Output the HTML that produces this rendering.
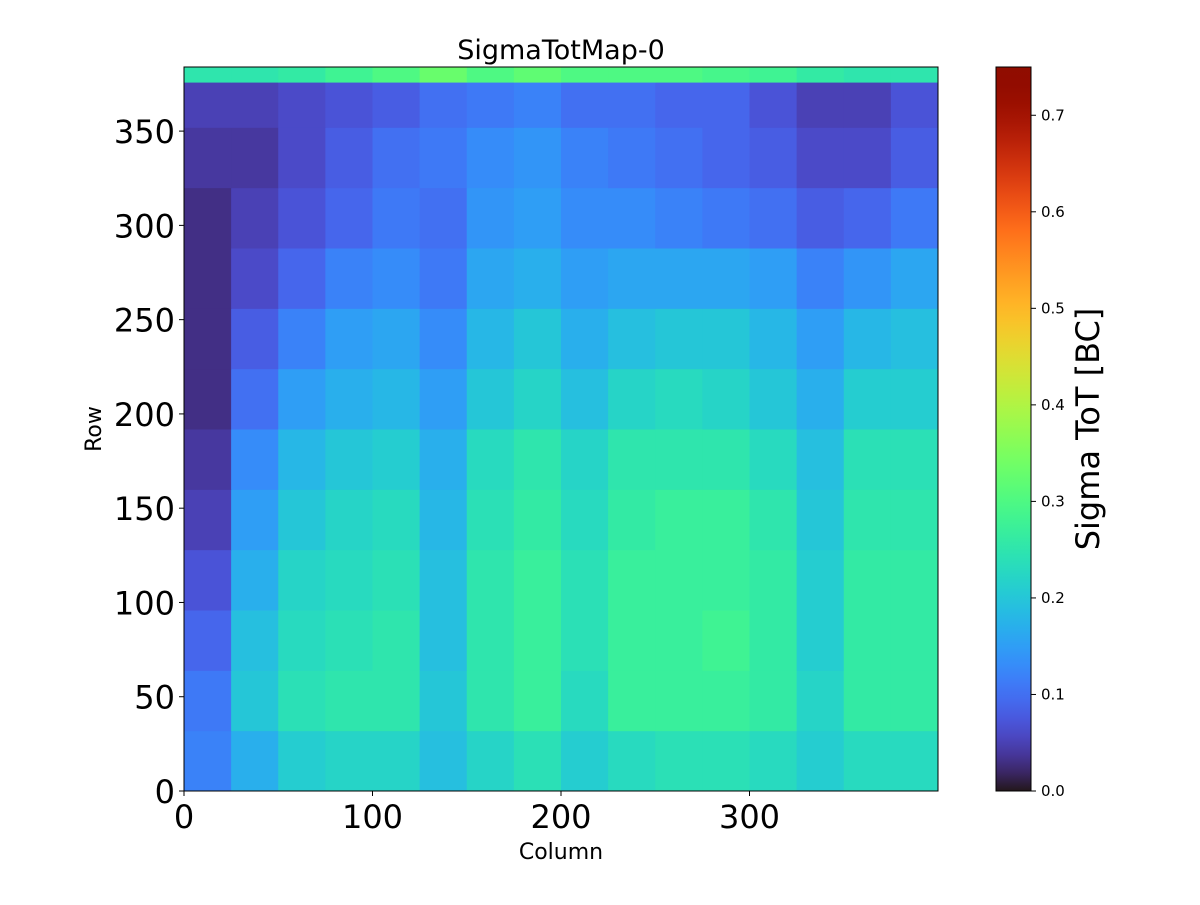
<!DOCTYPE html>
<html><head><meta charset="utf-8"><style>
body{margin:0;background:#fff;width:1200px;height:900px;overflow:hidden;font-family:"Liberation Sans","DejaVu Sans",sans-serif}
</style></head><body>
<svg id="chart" width="1200" height="900" xmlns="http://www.w3.org/2000/svg" font-family="DejaVu Sans, Liberation Sans, sans-serif">
<defs><linearGradient id="cbg" x1="0" y1="1" x2="0" y2="0"></linearGradient></defs>
<g id="cells"></g>
<rect x="184" y="67" width="754" height="724" fill="none" stroke="#000" stroke-width="1"/>
<g id="axes"></g>
<text x="561" y="59" font-size="27" text-anchor="middle">SigmaTotMap-0</text>
<text x="561" y="859" font-size="22" text-anchor="middle">Column</text>
<text transform="translate(101,429) rotate(-90)" font-size="22" text-anchor="middle">Row</text>
<rect x="996" y="67" width="35" height="724" fill="url(#cbg)" stroke="#000" stroke-width="1"/>
<text transform="translate(1099,429) rotate(-90)" font-size="32" text-anchor="middle">Sigma ToT [BC]</text>
</svg>
<script>
const colEdges=[0,25,50,75,100,125,150,175,200,225,250,275,300,325,350,375,400];
const rowEdges=[0,32,64,96,128,160,192,224,256,288,320,352,376,384];
const values=[
[0.12,0.17,0.21,0.22,0.22,0.19,0.22,0.24,0.21,0.23,0.24,0.24,0.23,0.21,0.23,0.23],
[0.11,0.2,0.24,0.25,0.25,0.2,0.25,0.27,0.23,0.27,0.27,0.27,0.26,0.22,0.26,0.26],
[0.09,0.19,0.23,0.24,0.25,0.19,0.25,0.27,0.24,0.27,0.27,0.28,0.26,0.21,0.26,0.26],
[0.07,0.17,0.22,0.23,0.24,0.19,0.25,0.27,0.24,0.27,0.27,0.27,0.26,0.21,0.26,0.26],
[0.05,0.15,0.2,0.22,0.23,0.18,0.24,0.26,0.23,0.26,0.27,0.27,0.25,0.2,0.25,0.25],
[0.04,0.13,0.18,0.2,0.21,0.17,0.23,0.25,0.22,0.25,0.25,0.25,0.23,0.19,0.24,0.24],
[0.03,0.1,0.15,0.17,0.18,0.15,0.2,0.22,0.19,0.22,0.23,0.22,0.2,0.17,0.21,0.21],
[0.03,0.08,0.12,0.15,0.16,0.13,0.18,0.2,0.17,0.19,0.2,0.2,0.18,0.15,0.18,0.19],
[0.03,0.06,0.09,0.12,0.13,0.11,0.16,0.17,0.15,0.16,0.16,0.16,0.15,0.12,0.14,0.16],
[0.03,0.05,0.07,0.09,0.11,0.1,0.14,0.15,0.13,0.13,0.12,0.11,0.1,0.08,0.09,0.11],
[0.04,0.04,0.06,0.08,0.1,0.11,0.13,0.14,0.12,0.11,0.1,0.09,0.08,0.06,0.06,0.08],
[0.05,0.05,0.06,0.07,0.08,0.1,0.11,0.12,0.1,0.1,0.09,0.09,0.07,0.05,0.05,0.07],
[0.25,0.25,0.26,0.28,0.3,0.33,0.3,0.32,0.3,0.3,0.3,0.29,0.28,0.26,0.25,0.25]
];
const xTicks=[0,100,200,300];
const yTicks=[0,50,100,150,200,250,300,350];
const cbTicks=[0,0.1,0.2,0.3,0.4,0.5,0.6,0.7];
const X0=184,X1=938,Y0=791,Y1=67,CB0=0,CB1=0.75;
const xs=c=>X0+(c/400)*(X1-X0);
const ys=r=>Y0-(r/384)*(Y0-Y1);
const cs=v=>791-(v-CB0)/(CB1-CB0)*724;
function turbo(x){x=Math.max(0,Math.min(1,x));
const r=0.13572138+x*(4.61539260+x*(-42.66032258+x*(132.13108234+x*(-152.94239396+x*59.28637943))));
const g=0.09140261+x*(2.19418839+x*(4.84296658+x*(-14.18503333+x*(4.27729857+x*2.82956604))));
const b=0.10667330+x*(12.64194608+x*(-60.58204836+x*(110.36276771+x*(-89.90310912+x*27.34824973))));
const f=v=>Math.round(Math.max(0,Math.min(1,v))*255);return `rgb(${f(r)},${f(g)},${f(b)})`;}
const NS="http://www.w3.org/2000/svg";
const cells=document.getElementById('cells');
values.forEach((row,i)=>row.forEach((v,j)=>{
 const r=document.createElementNS(NS,'rect');
 
 
 const x=xs(colEdges[j]),x2=xs(colEdges[j+1]),y=ys(rowEdges[i+1]),y2=ys(rowEdges[i]);
 r.setAttribute('x',x);r.setAttribute('y',y);r.setAttribute('width',x2-x+0.5);r.setAttribute('height',y2-y+0.5);
 r.setAttribute('fill',turbo((v-CB0)/(CB1-CB0)));cells.appendChild(r);
}));
const g=document.getElementById('cbg');
for(let k=0;k<=40;k++){const s=document.createElementNS(NS,'stop');s.setAttribute('offset',k/40);s.setAttribute('stop-color',turbo(k/40));g.appendChild(s);}
const axes=document.getElementById('axes');
function add(tag,attrs,txt){const e=document.createElementNS(NS,tag);for(const k in attrs)e.setAttribute(k,attrs[k]);if(txt!==undefined)e.textContent=txt;axes.appendChild(e);return e;}
xTicks.forEach(t=>{
 const l=add('line',{x1:xs(t),x2:xs(t),y1:791,y2:796,stroke:'#000'});
 
 
 const tx=add('text',{x:xs(t),y:828,'font-size':32,'text-anchor':'middle'},String(t));
 
 
});
yTicks.forEach(t=>{
 const l=add('line',{x1:179,x2:184,y1:ys(t),y2:ys(t),stroke:'#000'});
 
 
 const tx=add('text',{x:175,y:ys(t)+12,'font-size':32,'text-anchor':'end'},String(t));
 
 
});
cbTicks.forEach(t=>{
 const l=add('line',{x1:1031,x2:1036,y1:cs(t),y2:cs(t),stroke:'#000'});
 
 
 const tx=add('text',{x:1041,y:cs(t)+5,'font-size':15},t.toFixed(1));
 
 
});
</script>
</body></html>
